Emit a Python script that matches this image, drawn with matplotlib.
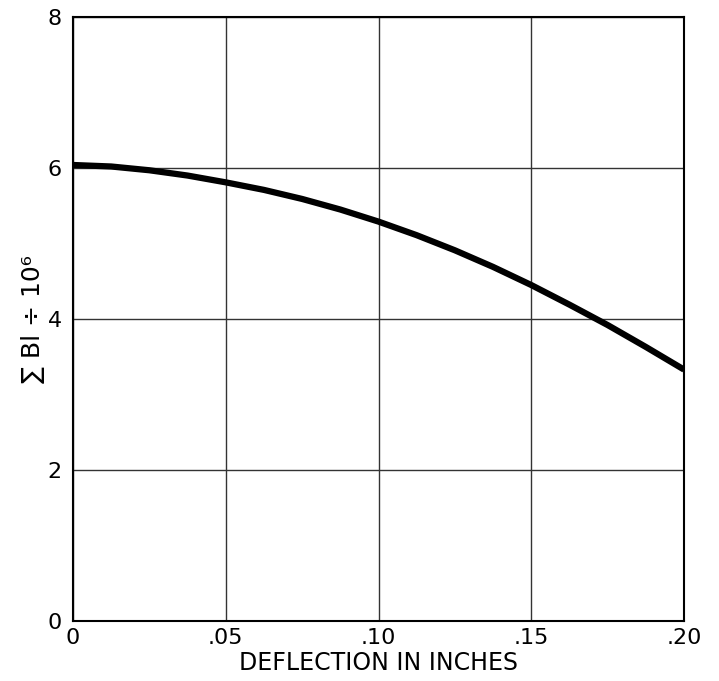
import matplotlib
matplotlib.use("Agg")
import matplotlib.pyplot as plt

deflection = [0.0, 0.0125, 0.025, 0.0375, 0.05, 0.0625, 0.075, 0.0875, 0.10,
              0.1125, 0.125, 0.1375, 0.15, 0.1625, 0.175, 0.1875, 0.20]
sum_bl = [6.04, 6.02, 5.97, 5.90, 5.81, 5.71, 5.59, 5.45, 5.29,
          5.11, 4.91, 4.69, 4.45, 4.19, 3.92, 3.63, 3.33]
x_ticks = [0.0, 0.05, 0.10, 0.15, 0.20]
x_tick_labels = ["0", ".05", ".10", ".15", ".20"]
y_ticks = [0, 2, 4, 6, 8]
y_tick_labels = ["0", "2", "4", "6", "8"]

plt.rcParams['font.family'] = ['DejaVu Sans']

fig = plt.figure(figsize=(7.19, 6.81), dpi=100)
ax = fig.add_axes([73/719, 1 - 621/681, (684 - 73)/719, (621 - 17)/681])

ax.plot(deflection, sum_bl, color="black", linewidth=4.5,
        solid_capstyle="butt", solid_joinstyle="round", zorder=3)

ax.set_xlim(0, 0.20)
ax.set_ylim(0, 8)
ax.set_xticks(x_ticks)
ax.set_xticklabels(x_tick_labels, fontsize=16)
ax.set_yticks(y_ticks)
ax.set_yticklabels(y_tick_labels, fontsize=16)
ax.tick_params(axis="y", length=0, pad=8)
ax.tick_params(axis="x", length=0, pad=5)
ax.grid(True, color="#333333", linewidth=1.0)
for s in ax.spines.values():
    s.set_linewidth(1.5)
    s.set_color("black")

ax.set_xlabel("DEFLECTION IN INCHES", fontsize=17, labelpad=2)
ax.set_ylabel("∑ Bl ÷ 10⁶", fontsize=18, labelpad=2)

fig.savefig("out.png", dpi=100, facecolor="white")
